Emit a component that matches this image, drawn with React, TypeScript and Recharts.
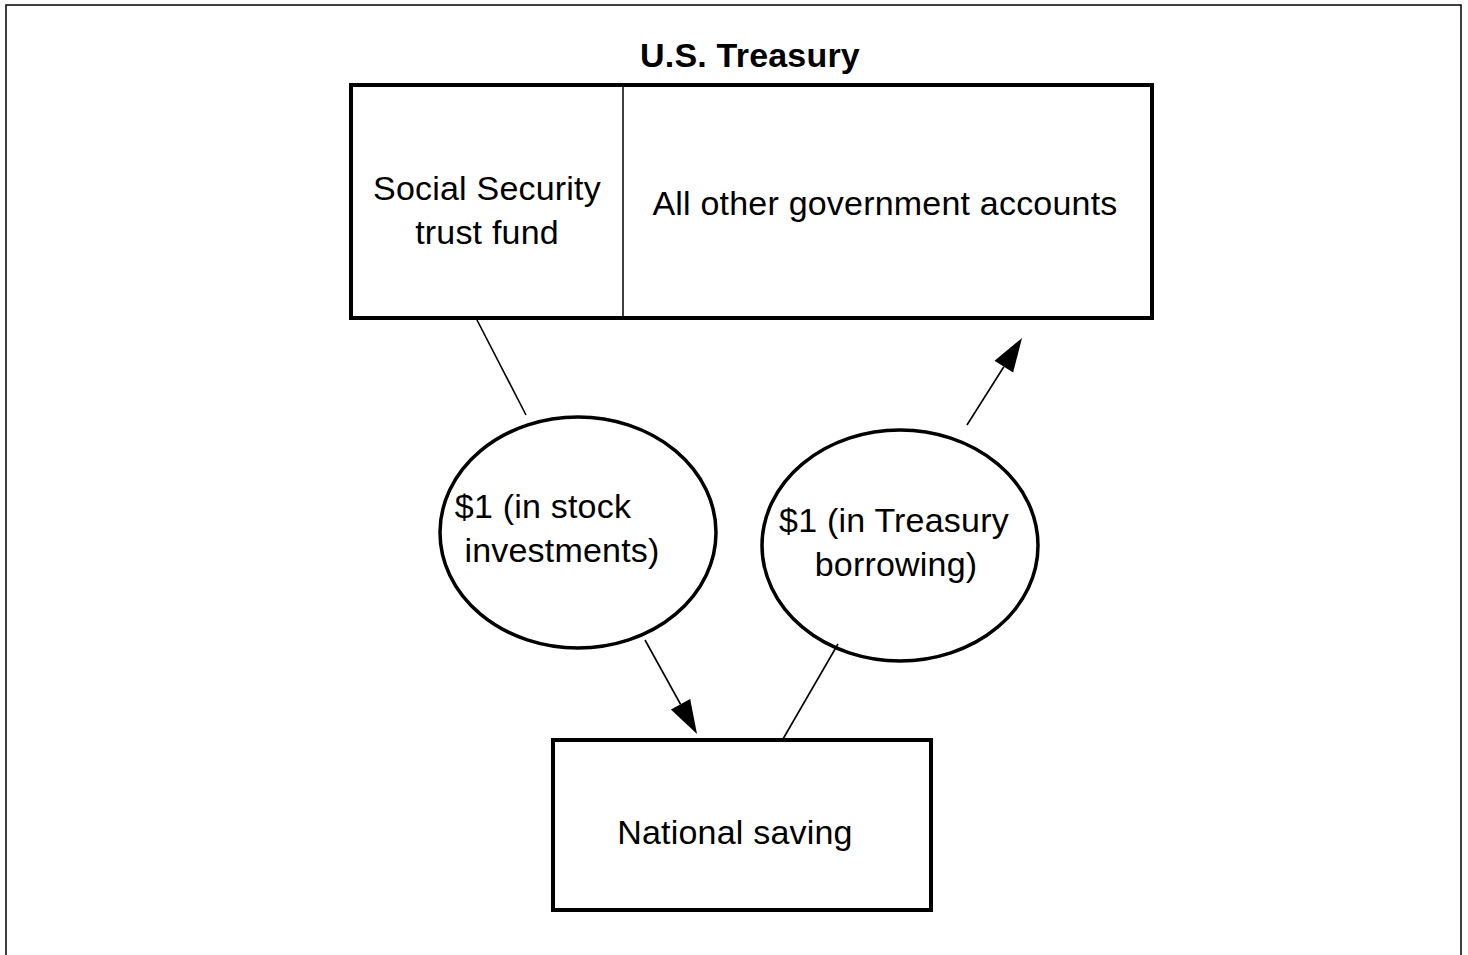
import {
  ComposedChart,
  ReferenceArea,
  ReferenceDot,
  ReferenceLine,
  XAxis,
  YAxis,
} from "recharts";

// diagram laid out on a 1468 x 955 grid (axis units = page pixels)
const W = 1468;
const H = 955;

const frame = { x1: 6, x2: 1461, y1: 5, y2: 975 };

const boxes = [
  { id: "treasury", x1: 351, x2: 1152, y1: 85, y2: 318 },
  { id: "saving", x1: 553, x2: 931, y1: 740, y2: 910 },
];

const dividers = [{ x: 623, y1: 87, y2: 316 }];

const ellipses = [
  { id: "stock", x1: 440, x2: 716, y1: 417, y2: 648 },
  { id: "borrow", x1: 762, x2: 1038, y1: 430, y2: 661 },
];

const connectors = [
  { from: { x: 476, y: 318 }, to: { x: 526, y: 415 }, arrow: false },
  { from: { x: 645, y: 640 }, to: { x: 697, y: 734 }, arrow: true },
  { from: { x: 783, y: 739 }, to: { x: 838, y: 644 }, arrow: false },
  { from: { x: 967, y: 425 }, to: { x: 1022, y: 338 }, arrow: true },
];

const labels = [
  { x: 750, y: 55, text: "U.S. Treasury", bold: true },
  { x: 487, y: 188, text: "Social Security", bold: false },
  { x: 487, y: 232, text: "trust fund", bold: false },
  { x: 885, y: 203, text: "All other government accounts", bold: false },
  { x: 543, y: 506, text: "$1 (in stock", bold: false },
  { x: 562, y: 550, text: "investments)", bold: false },
  { x: 894, y: 520, text: "$1 (in Treasury", bold: false },
  { x: 896, y: 564, text: "borrowing)", bold: false },
  { x: 735, y: 832, text: "National saving", bold: false },
];

const FONT = "'Liberation Sans', Arial, sans-serif";

function Connector(props: any) {
  const { x1, y1, x2, y2, arrow } = props;
  const line = <line x1={x1} y1={y1} x2={x2} y2={y2} stroke="#000" strokeWidth={1.6} />;
  if (!arrow) return line;
  const dx = x2 - x1;
  const dy = y2 - y1;
  const len = Math.hypot(dx, dy) || 1;
  const ux = dx / len;
  const uy = dy / len;
  const headLen = 34;
  const half = 11;
  const bx = x2 - ux * headLen;
  const by = y2 - uy * headLen;
  const pts = [
    `${x2},${y2}`,
    `${bx - uy * half},${by + ux * half}`,
    `${bx + uy * half},${by - ux * half}`,
  ].join(" ");
  return (
    <g>
      <line x1={x1} y1={y1} x2={bx} y2={by} stroke="#000" strokeWidth={1.6} />
      <polygon points={pts} fill="#000" />
    </g>
  );
}

export default function App() {
  return (
    <div style={{ position: "absolute", left: 0, top: 0, background: "#fff" }}>
      <ComposedChart width={W} height={H} data={[]} margin={{ top: 0, right: 0, bottom: 0, left: 0 }}>
        <XAxis type="number" dataKey="x" domain={[0, W]} allowDataOverflow hide />
        <YAxis type="number" dataKey="y" domain={[0, H]} allowDataOverflow reversed hide />

        <ReferenceArea
          x1={frame.x1}
          x2={frame.x2}
          y1={frame.y1}
          y2={frame.y2}
          ifOverflow="visible"
          fill="none"
          stroke="#000"
          strokeWidth={1.5}
          fillOpacity={0}
        />

        {boxes.map((b) => (
          <ReferenceArea
            key={b.id}
            x1={b.x1}
            x2={b.x2}
            y1={b.y1}
            y2={b.y2}
            ifOverflow="visible"
            fill="#fff"
            fillOpacity={0}
            stroke="#000"
            strokeWidth={4}
          />
        ))}

        {dividers.map((d, i) => (
          <ReferenceLine
            key={`div-${i}`}
            segment={[
              { x: d.x, y: d.y1 },
              { x: d.x, y: d.y2 },
            ]}
            ifOverflow="visible"
            stroke="#000"
            strokeWidth={1.5}
          />
        ))}

        {ellipses.map((e) => (
          <ReferenceArea
            key={e.id}
            x1={e.x1}
            x2={e.x2}
            y1={e.y1}
            y2={e.y2}
            ifOverflow="visible"
            shape={(p: any) => (
              <ellipse
                cx={p.x + p.width / 2}
                cy={p.y + p.height / 2}
                rx={Math.abs(p.width) / 2}
                ry={Math.abs(p.height) / 2}
                fill="none"
                stroke="#000"
                strokeWidth={3.5}
              />
            )}
          />
        ))}

        {connectors.map((c, i) => (
          <ReferenceLine
            key={`conn-${i}`}
            segment={[c.from, c.to]}
            ifOverflow="visible"
            shape={(p: any) => <Connector {...p} arrow={c.arrow} />}
          />
        ))}

        {labels.map((l, i) => (
          <ReferenceDot
            key={`lbl-${i}`}
            x={l.x}
            y={l.y}
            r={0}
            ifOverflow="visible"
            shape={(p: any) => (
              <text
                x={p.cx}
                y={p.cy}
                textAnchor="middle"
                dominantBaseline="central"
                fontFamily={FONT}
                fontSize={34}
                letterSpacing={0.2}
                fontWeight={l.bold ? 700 : 400}
                fill="#000"
              >
                {l.text}
              </text>
            )}
          />
        ))}
      </ComposedChart>
    </div>
  );
}
